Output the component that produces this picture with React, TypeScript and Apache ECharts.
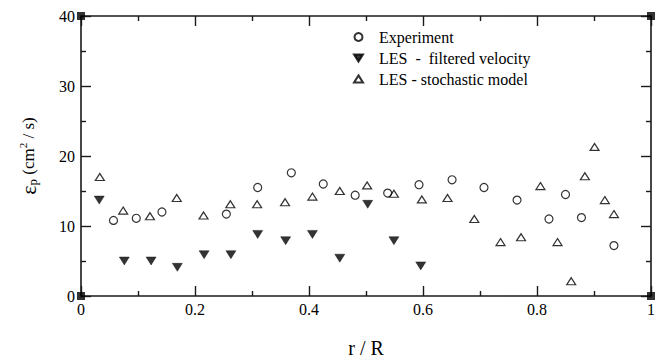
import React, { useEffect, useRef } from "react";
import * as echarts from "echarts";

const seriesNames = ["Experiment", "LES  -  filtered velocity", "LES - stochastic model"];

const rExp = [0.057, 0.097, 0.142, 0.255, 0.31, 0.369, 0.425, 0.481, 0.538, 0.593, 0.651, 0.707, 0.765, 0.821, 0.85, 0.878, 0.935];
const epsExp = [10.8, 11.1, 12.0, 11.7, 15.5, 17.6, 16.0, 14.4, 14.7, 15.9, 16.6, 15.5, 13.7, 11.0, 14.5, 11.2, 7.2];

const rFilt = [0.032, 0.076, 0.123, 0.169, 0.216, 0.263, 0.31, 0.359, 0.406, 0.454, 0.503, 0.549, 0.596];
const epsFilt = [13.7, 5.0, 5.0, 4.1, 5.9, 5.9, 8.8, 7.9, 8.8, 5.4, 13.1, 7.9, 4.3];

const rSto = [0.033, 0.074, 0.121, 0.168, 0.215, 0.262, 0.309, 0.358, 0.406, 0.454, 0.502, 0.549, 0.598, 0.643, 0.69, 0.736, 0.772, 0.806, 0.836, 0.86, 0.884, 0.901, 0.919, 0.935];
const epsSto = [17.0, 12.2, 11.4, 14.0, 11.5, 13.1, 13.1, 13.4, 14.2, 15.0, 15.8, 14.6, 13.8, 14.0, 11.0, 7.7, 8.4, 15.7, 7.7, 2.1, 17.1, 21.3, 13.7, 11.7];

const xRange = [0, 1];
const yRange = [0, 40];

const FONT = "Liberation Serif, Times New Roman, serif";
const AX = "#1a1a1a";

const zip = (a: number[], b: number[]) => a.map((v, i) => [v, b[i]]);

export default function App() {
  const ref = useRef<HTMLDivElement>(null);
  useEffect(() => {
    if (!ref.current) return;
    const chart = echarts.init(ref.current, null, { renderer: "svg" });
    const axisCommon = {
      axisLine: { show: true, onZero: false, lineStyle: { color: AX, width: 1.6 } },
      axisTick: { show: true, inside: true, length: 10, lineStyle: { color: AX, width: 1.4 } },
      minorTick: { show: true, splitNumber: 2, length: 5, lineStyle: { color: AX, width: 1.4 } },
      splitLine: { show: false },
    };
    chart.setOption({
      animation: false,
      backgroundColor: "#ffffff",
      grid: { left: 81, right: 15, top: 16, bottom: 62, containLabel: false },
      legend: {
        orient: "vertical",
        left: 348,
        top: 24,
        itemWidth: 9,
        itemHeight: 8,
        itemGap: 5,
        symbolKeepAspect: true,
        data: [
          { name: seriesNames[0], icon: "circle" },
          { name: seriesNames[1], icon: "path://M0,0L10,0L5,8Z" },
          { name: seriesNames[2], icon: "path://M5,0L10,8L0,8Z" },
        ],
        textStyle: { fontFamily: FONT, fontSize: 16, color: "#000", padding: [0, 0, 0, 11] },
      },
      xAxis: [
        {
          type: "value",
          min: xRange[0],
          max: xRange[1],
          interval: 0.2,
          position: "bottom",
          ...axisCommon,
          axisLabel: { fontFamily: FONT, fontSize: 16, color: "#000", margin: 5 },
          name: "r / R",
          nameLocation: "middle",
          nameGap: 42,
          nameTextStyle: { fontFamily: FONT, fontSize: 20, color: "#000" },
        },
        {
          type: "value",
          min: xRange[0],
          max: xRange[1],
          interval: 0.2,
          position: "top",
          ...axisCommon,
          axisLabel: { show: false },
        },
      ],
      yAxis: [
        {
          type: "value",
          min: yRange[0],
          max: yRange[1],
          interval: 10,
          position: "left",
          ...axisCommon,
          axisLabel: { fontFamily: FONT, fontSize: 16, color: "#000", margin: 6 },
          name: "{e|ε}{sub|p}{t| (cm}{sup|2}{t| / s)}",
          nameLocation: "middle",
          nameRotate: 90,
          nameGap: 42,
          nameTextStyle: {
            fontFamily: FONT,
            color: "#000",
            lineHeight: 30,
            rich: {
              e: { fontFamily: FONT, fontSize: 22, lineHeight: 22, verticalAlign: "middle", color: "#000" },
              sub: { fontFamily: FONT, fontSize: 13, lineHeight: 13, verticalAlign: "bottom", color: "#000" },
              t: { fontFamily: FONT, fontSize: 17, lineHeight: 17, verticalAlign: "middle", color: "#000" },
              sup: { fontFamily: FONT, fontSize: 11, lineHeight: 11, verticalAlign: "top", color: "#000" },
            },
          },
        },
        {
          type: "value",
          min: yRange[0],
          max: yRange[1],
          interval: 10,
          position: "right",
          ...axisCommon,
          axisLabel: { show: false },
        },
      ],
      series: [
        {
          name: seriesNames[0],
          type: "scatter",
          symbol: "circle",
          symbolSize: 8,
          itemStyle: { color: "rgba(255,255,255,0)", borderColor: "#000", borderWidth: 1.2 },
          data: zip(rExp, epsExp),
          z: 3,
        },
        {
          name: seriesNames[1],
          type: "scatter",
          symbol: "triangle",
          symbolRotate: 180,
          symbolSize: [10, 8],
          itemStyle: { color: "#000", borderColor: "#000", borderWidth: 0.5 },
          data: zip(rFilt, epsFilt),
          z: 3,
        },
        {
          name: seriesNames[2],
          type: "scatter",
          symbol: "triangle",
          symbolSize: [9, 7],
          itemStyle: { color: "rgba(255,255,255,0)", borderColor: "#000", borderWidth: 1.2 },
          data: zip(rSto, epsSto),
          z: 3,
        },
        {
          name: "corners",
          type: "scatter",
          symbol: "rect",
          symbolSize: 8,
          silent: true,
          clip: false,
          itemStyle: { color: "#000" },
          data: [
            [xRange[0], yRange[0]],
            [xRange[1], yRange[0]],
            [xRange[0], yRange[1]],
            [xRange[1], yRange[1]],
          ],
          z: 5,
        },
      ],
    });
    return () => chart.dispose();
  }, []);
  return (
    <div
      ref={ref}
      style={{ position: "absolute", left: 0, top: 0, width: 666, height: 363 }}
    />
  );
}
